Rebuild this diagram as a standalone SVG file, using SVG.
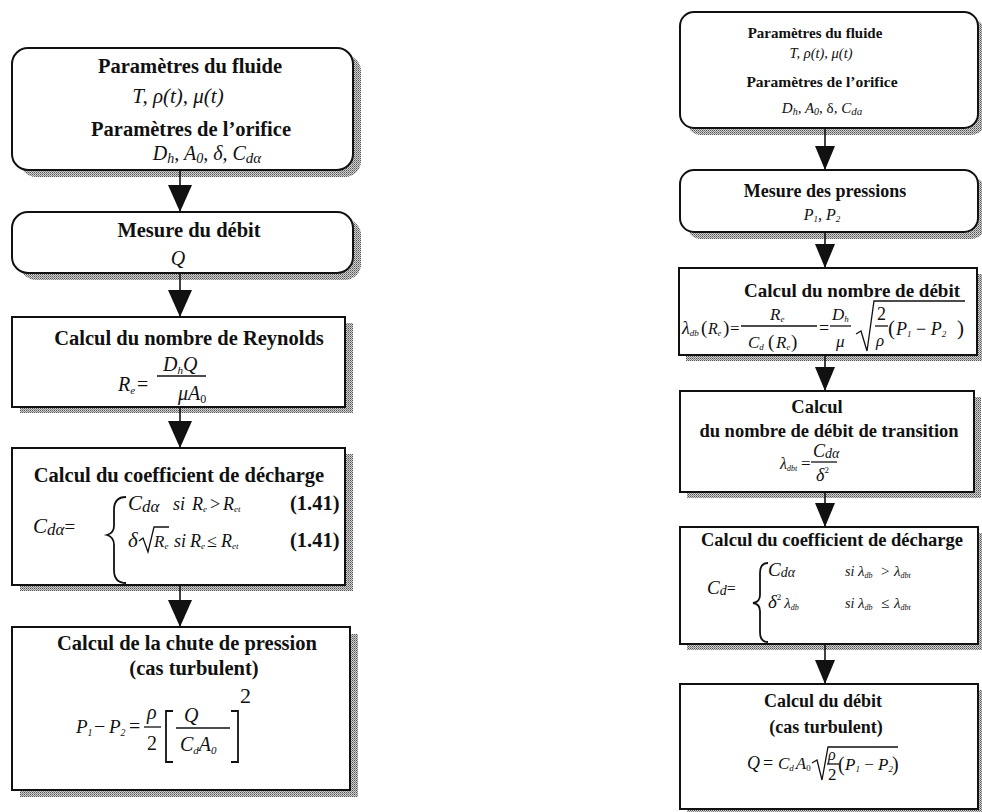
<svg xmlns="http://www.w3.org/2000/svg" width="982" height="812" viewBox="0 0 982 812">
<defs>
<pattern id="dots" width="2" height="2" patternUnits="userSpaceOnUse">
<rect width="2" height="2" fill="#d0d0d0"/>
<rect width="1" height="1" fill="#555"/>
<rect x="1" y="1" width="1" height="1" fill="#888"/>
</pattern>
<marker id="ahL" markerUnits="userSpaceOnUse" markerWidth="28" markerHeight="24" refX="27" refY="12" orient="auto">
<path d="M0,0 L27,12 L0,24 Z" fill="#111"/>
</marker>
<marker id="ahR" markerUnits="userSpaceOnUse" markerWidth="25" markerHeight="22" refX="24" refY="10" orient="auto">
<path d="M0,0 L24,10 L0,20 Z" fill="#111"/>
</marker>
</defs>
<style>
.box{fill:#fff;stroke:#111;stroke-width:2}
.sh{fill:url(#dots)}
.h{font-family:"Liberation Serif","Times New Roman",serif;font-weight:bold;text-anchor:middle;fill:#111}
.hl{font-size:20.5px}
.hr{font-size:18.5px}
.hs{font-size:15px}
.m{font-family:"Liberation Serif","Times New Roman",serif;font-style:italic;fill:#111}
.u{font-family:"Liberation Serif","Times New Roman",serif;fill:#111}
.b{font-family:"Liberation Serif","Times New Roman",serif;font-weight:bold;fill:#111}
.ln{stroke:#111;stroke-width:1.3;fill:none}
.br{stroke:#111;stroke-width:1.8;fill:none}
.conn line{stroke:#111;stroke-width:1.6}
</style>
<rect width="982" height="812" fill="#fff"/>

<!-- Left column -->
<g id="L1">
<rect class="sh" x="20" y="55" width="341" height="122" rx="16"/>
<rect class="box" x="12" y="48" width="341" height="122" rx="16"/>
<text class="h hl" x="190" y="73">Paramètres du fluide</text>
<text class="m" x="178" y="103" font-size="21" text-anchor="middle">T, ρ(t), μ(t)</text>
<text class="h hl" x="191" y="136">Paramètres de l’orifice</text>
<text class="m" x="207" y="160" font-size="20" text-anchor="middle">D<tspan font-size="14" dy="3">h</tspan><tspan dy="-3">, A</tspan><tspan font-size="14" dy="3">0</tspan><tspan dy="-3">, δ, C</tspan><tspan font-size="15" dy="3">dα</tspan></text>
</g>

<g id="L2">
<rect class="sh" x="20" y="219" width="341" height="61" rx="16"/>
<rect class="box" x="12" y="212" width="341" height="61" rx="16"/>
<text class="h hl" x="189" y="237">Mesure du débit</text>
<text class="m" x="178" y="265" font-size="20" text-anchor="middle">Q</text>
</g>

<g id="L3">
<rect class="sh" x="20" y="323" width="333" height="90"/>
<rect class="box" x="12" y="317" width="333" height="90"/>
<text class="h hl" x="189" y="345">Calcul du nombre de Reynolds</text>
<text class="m" x="118" y="391" font-size="20">R<tspan font-size="11" dy="3">e</tspan></text>
<text class="u" x="137" y="391" font-size="20">=</text>
<text class="m" x="163" y="371" font-size="20">D<tspan font-size="11" dy="3">h</tspan><tspan dy="-3">Q</tspan></text>
<line class="ln" x1="157" y1="376" x2="206" y2="376"/>
<text class="m" x="178" y="400" font-size="20">μA<tspan font-size="12" dy="3" font-style="normal">0</tspan></text>
</g>

<g id="L4">
<rect class="sh" x="20" y="454" width="333" height="137"/>
<rect class="box" x="12" y="448" width="333" height="137"/>
<text class="h hl" x="179" y="482">Calcul du coefficient de décharge</text>
<text class="m" x="33" y="533" font-size="21">C<tspan font-size="17" dy="2">dα</tspan><tspan dy="-2" font-style="normal" font-size="19">=</tspan></text>
<path class="br" d="M126,497 Q114,497 114,510 L114,526 Q114,533 107,535 Q114,537 114,545 L114,570 Q114,583 126,583"/>
<text class="m" x="128" y="510" font-size="21">C<tspan font-size="17" dy="2">dα</tspan></text>
<text class="m" x="173" y="510" font-size="18">si</text>
<text class="m" x="192" y="510" font-size="18">R<tspan font-size="9" dy="2">e</tspan></text>
<text class="u" x="210" y="510" font-size="18">&gt;</text>
<text class="m" x="223" y="510" font-size="18">R<tspan font-size="9" dy="2">et</tspan></text>
<text class="b" x="290" y="510" font-size="20.5">(1.41)</text>
<text class="m" x="128" y="547" font-size="21">δ</text>
<path class="ln" d="M139,541 L143,538 L148,552 L154,527 L169,527"/>
<text class="m" x="154" y="547" font-size="17">R<tspan font-size="9" dy="2">e</tspan></text>
<text class="m" x="174" y="547" font-size="18">si</text>
<text class="m" x="190" y="547" font-size="18">R<tspan font-size="9" dy="2">e</tspan></text>
<text class="u" x="207" y="547" font-size="18">≤</text>
<text class="m" x="221" y="547" font-size="18">R<tspan font-size="9" dy="2">et</tspan></text>
<text class="b" x="290" y="547" font-size="20.5">(1.41)</text>
</g>

<g id="L5">
<rect class="sh" x="20" y="634" width="338" height="163"/>
<rect class="box" x="12" y="627" width="338" height="163"/>
<text class="h hl" x="187" y="650">Calcul de la chute de pression</text>
<text class="h hl" x="194" y="675">(cas turbulent)</text>
<text class="m" x="76" y="733" font-size="19">P<tspan font-size="10" dy="3">1</tspan></text>
<text class="u" x="94" y="733" font-size="20">−</text>
<text class="m" x="109" y="733" font-size="19">P<tspan font-size="10" dy="3">2</tspan></text>
<text class="u" x="129" y="733" font-size="20">=</text>
<text class="m" x="147" y="719" font-size="20">ρ</text>
<line class="ln" x1="144" y1="727" x2="161" y2="727"/>
<text class="u" x="147" y="750" font-size="20">2</text>
<path class="br" d="M173,711 H166 V762 H173"/>
<text class="m" x="184" y="722" font-size="20">Q</text>
<line class="ln" x1="176" y1="728" x2="230" y2="728"/>
<text class="m" x="180" y="751" font-size="20">C<tspan font-size="11" dy="3">d</tspan><tspan dy="-3">A</tspan><tspan font-size="11" dy="3">0</tspan></text>
<path class="br" d="M231,711 H238 V762 H231"/>
<text class="u" x="240" y="703" font-size="22">2</text>
</g>

<!-- Right column -->
<g id="R1">
<rect class="sh" x="687" y="19" width="298" height="116" rx="14"/>
<rect class="box" x="680" y="12" width="298" height="116" rx="14"/>
<text class="h hs" x="815" y="38">Paramètres du fluide</text>
<text class="m" x="821" y="58" font-size="14.5" text-anchor="middle">T, ρ(t), μ(t)</text>
<text class="h" x="822" y="87" font-size="15.5">Paramètres de l’orifice</text>
<text class="m" x="822" y="113" font-size="15" text-anchor="middle">D<tspan font-size="10" dy="2">h</tspan><tspan dy="-2">, A</tspan><tspan font-size="10" dy="2">0</tspan><tspan dy="-2" font-style="normal">, δ, </tspan><tspan>C</tspan><tspan font-size="11" dy="2">da</tspan></text>
</g>

<g id="R2">
<rect class="sh" x="687" y="177" width="298" height="62" rx="14"/>
<rect class="box" x="680" y="170" width="298" height="62" rx="14"/>
<text class="h" x="825" y="197" font-size="18">Mesure des pressions</text>
<text class="m" x="822" y="220" font-size="16" text-anchor="middle">P<tspan font-size="9" dy="2">1</tspan><tspan dy="-2">, P</tspan><tspan font-size="9" dy="2">2</tspan></text>
</g>

<g id="R3">
<rect class="sh" x="686" y="274" width="298" height="87"/>
<rect class="box" x="679" y="268" width="298" height="87"/>
<text class="h" x="852" y="297" font-size="19">Calcul du nombre de débit</text>
<text class="m" x="682" y="334" font-size="18">λ<tspan font-size="9" dy="2">db</tspan></text>
<text class="u" x="701" y="334" font-size="19">(</text>
<text class="m" x="708" y="334" font-size="16">R<tspan font-size="8" dy="2">e</tspan></text>
<text class="u" x="723" y="334" font-size="19">)</text>
<text class="u" x="730" y="334" font-size="17">=</text>
<text class="m" x="770" y="320" font-size="17">R<tspan font-size="9" dy="2">e</tspan></text>
<line class="ln" x1="741" y1="326" x2="817" y2="326"/>
<text class="m" x="748" y="348" font-size="17">C<tspan font-size="9" dy="2">d</tspan></text>
<text class="u" x="768" y="348" font-size="19">(</text>
<text class="m" x="776" y="348" font-size="17">R<tspan font-size="9" dy="2">e</tspan></text>
<text class="u" x="791" y="348" font-size="19">)</text>
<text class="u" x="819" y="334" font-size="18">=</text>
<text class="m" x="832" y="320" font-size="17">D<tspan font-size="9" dy="2">h</tspan></text>
<line class="ln" x1="830" y1="326" x2="851" y2="326"/>
<text class="m" x="836" y="347" font-size="17">μ</text>
<path class="ln" d="M856,334 L861,331 L867,351 L874,301 L965,301"/>
<text class="u" x="877" y="320" font-size="18">2</text>
<line class="ln" x1="875" y1="326" x2="888" y2="326"/>
<text class="m" x="876" y="346" font-size="17">ρ</text>
<text class="u" x="888" y="335" font-size="21">(</text>
<text class="m" x="896" y="335" font-size="18">P<tspan font-size="9" dy="2">1</tspan><tspan dy="-2" font-style="normal"> − </tspan><tspan>P</tspan><tspan font-size="9" dy="2">2</tspan></text>
<text class="u" x="957" y="335" font-size="21">)</text>
</g>

<g id="R4">
<rect class="sh" x="687" y="397" width="294" height="101"/>
<rect class="box" x="680" y="391" width="294" height="101"/>
<text class="h hr" x="817" y="413">Calcul</text>
<text class="h hr" x="829" y="437">du nombre de débit de transition</text>
<text class="m" x="780" y="469" font-size="16">λ<tspan font-size="8" dy="2">dbt</tspan></text>
<text class="u" x="801" y="469" font-size="17">=</text>
<text class="m" x="813" y="457" font-size="18">C<tspan font-size="14" dy="1">dα</tspan></text>
<line class="ln" x1="811" y1="462" x2="837" y2="462"/>
<text class="m" x="816" y="481" font-size="18">δ<tspan font-size="9" dy="-8" font-style="normal">2</tspan></text>
</g>

<g id="R5">
<rect class="sh" x="687" y="533" width="298" height="117"/>
<rect class="box" x="680" y="527" width="298" height="117"/>
<text class="h hr" x="832" y="546">Calcul du coefficient de décharge</text>
<text class="m" x="707" y="594" font-size="19">C<tspan font-size="14" dy="1">d</tspan><tspan dy="-1" font-style="normal" font-size="16">=</tspan></text>
<path class="br" d="M768,563 Q760,563 760,573 L760,595 Q760,602 753,603 Q760,604 760,611 L760,632 Q760,642 768,642"/>
<text class="m" x="768" y="576" font-size="19">C<tspan font-size="14" dy="1">dα</tspan></text>
<text class="m" x="845" y="576" font-size="14">si</text>
<text class="m" x="858" y="576" font-size="15">λ<tspan font-size="8" dy="2">db</tspan></text>
<text class="u" x="881" y="576" font-size="15">&gt;</text>
<text class="m" x="894" y="576" font-size="15">λ<tspan font-size="8" dy="2">dbt</tspan></text>
<text class="m" x="768" y="608" font-size="19">δ<tspan font-size="9" dy="-8" font-style="normal">2</tspan><tspan dx="3" dy="8" font-size="15">λ</tspan><tspan font-size="8" dy="2">db</tspan></text>
<text class="m" x="845" y="608" font-size="14">si</text>
<text class="m" x="858" y="608" font-size="15">λ<tspan font-size="8" dy="2">db</tspan></text>
<text class="u" x="881" y="608" font-size="15">≤</text>
<text class="m" x="894" y="608" font-size="15">λ<tspan font-size="8" dy="2">dbt</tspan></text>
</g>

<g id="R6">
<rect class="sh" x="687" y="690" width="298" height="125"/>
<rect class="box" x="680" y="684" width="298" height="125"/>
<text class="h" x="823" y="707" font-size="18">Calcul du débit</text>
<text class="h" x="826" y="733" font-size="18">(cas turbulent)</text>
<text class="m" x="747" y="769" font-size="18">Q</text>
<text class="u" x="763" y="769" font-size="18">=</text>
<text class="m" x="778" y="769" font-size="17">C<tspan font-size="9" dy="2">d</tspan><tspan dy="-2" dx="2">A</tspan><tspan font-size="9" dy="2" font-style="normal">0</tspan></text>
<path class="ln" d="M812,763 L817,760 L822,780 L828,747 L898,747"/>
<text class="m" x="828" y="760" font-size="16">ρ</text>
<line class="ln" x1="827" y1="764" x2="839" y2="764"/>
<text class="u" x="828" y="780" font-size="17">2</text>
<text class="u" x="838" y="771" font-size="20">(</text>
<text class="m" x="845" y="770" font-size="17">P<tspan font-size="9" dy="2">1</tspan><tspan dy="-2" font-style="normal"> − </tspan><tspan>P</tspan><tspan font-size="9" dy="2">2</tspan></text>
<text class="u" x="892" y="771" font-size="20">)</text>
</g>

<g id="connectors" class="conn">
<line x1="180" y1="170" x2="180" y2="212" marker-end="url(#ahL)"/>
<line x1="180" y1="273" x2="180" y2="317" marker-end="url(#ahL)"/>
<line x1="180" y1="407" x2="180" y2="448" marker-end="url(#ahL)"/>
<line x1="180" y1="585" x2="180" y2="627" marker-end="url(#ahL)"/>
<line x1="825" y1="128" x2="825" y2="170" marker-end="url(#ahR)"/>
<line x1="825" y1="232" x2="825" y2="268" marker-end="url(#ahR)"/>
<line x1="825" y1="355" x2="825" y2="391" marker-end="url(#ahR)"/>
<line x1="825" y1="492" x2="825" y2="527" marker-end="url(#ahR)"/>
<line x1="825" y1="644" x2="825" y2="684" marker-end="url(#ahR)"/>
</g>
</svg>
